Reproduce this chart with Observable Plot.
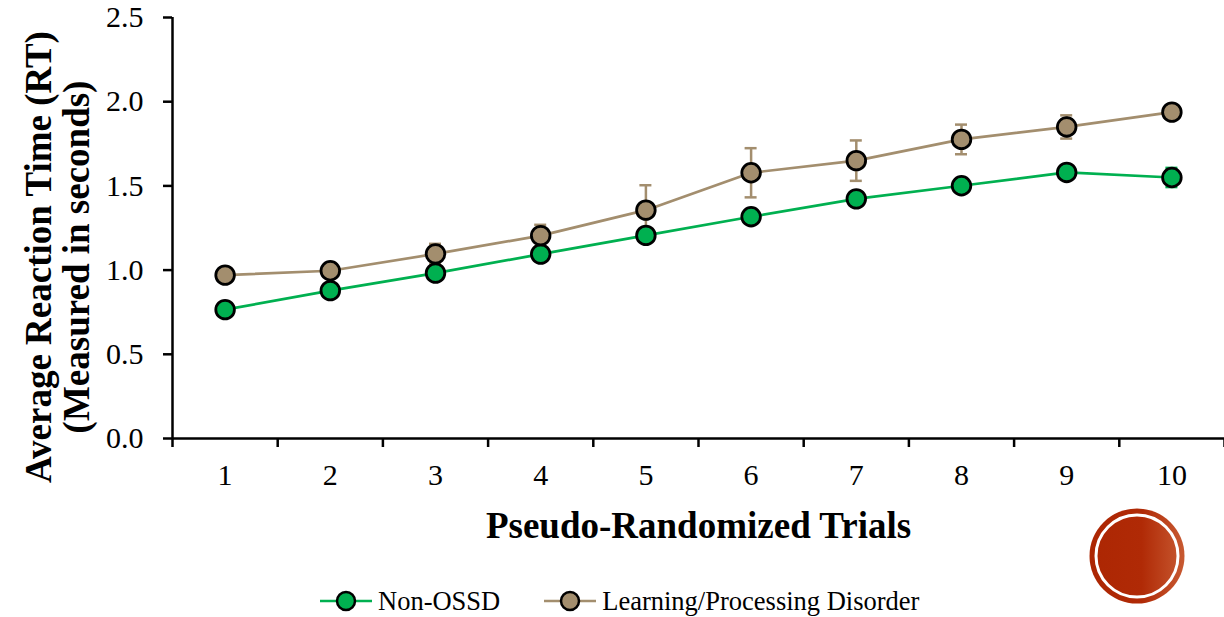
<!DOCTYPE html>
<html>
<head>
<meta charset="utf-8">
<script src="https://cdn.jsdelivr.net/npm/d3@7"></script>
<script src="https://cdn.jsdelivr.net/npm/@observablehq/plot@0.6"></script>
<style>
  html, body { margin: 0; padding: 0; background: #fff; }
  #wrap { position: relative; width: 1224px; height: 617px; overflow: hidden; font-family: "Liberation Serif", "Times New Roman", serif; }
  #chart svg { display: block; }
  #legend { position: absolute; left: 320px; top: 586px; height: 30px; display: flex; align-items: center; font-size: 26.5px; color: #000; }
  .item { display: flex; align-items: center; margin-right: 44px; }
  .item svg { display: block; margin-right: 6px; }
  #deco { position: absolute; left: 1088px; top: 507px; }
</style>
</head>
<body>
<div id="wrap">
  <div id="chart"></div>
  <div id="legend"></div>
  <svg id="deco" width="98" height="98" viewBox="0 0 98 98">
    <defs>
      <linearGradient id="rg" x1="0" y1="0" x2="1" y2="0">
        <stop offset="0" stop-color="#AC2603"/>
        <stop offset="0.55" stop-color="#B02A06"/>
        <stop offset="1" stop-color="#C85A32"/>
      </linearGradient>
    </defs>
    <circle cx="49" cy="49" r="47.5" fill="url(#rg)"/>
    <circle cx="49" cy="49" r="41" fill="none" stroke="#fff" stroke-width="3"/>
  </svg>
</div>
<script>
// ---- data ----
const trials = [1, 2, 3, 4, 5, 6, 7, 8, 9, 10];
const seriesNames = ["Non-OSSD", "Learning/Processing Disorder"];
const seriesColors = ["#00B050", "#A38E6E"];
const nonOssd    = [0.765, 0.878, 0.982, 1.095, 1.206, 1.317, 1.423, 1.501, 1.580, 1.550];
const nonOssdErr = [0.020, 0.020, 0.020, 0.025, 0.030, 0.030, 0.030, 0.030, 0.035, 0.057];
const lpd        = [0.970, 0.996, 1.096, 1.205, 1.356, 1.578, 1.650, 1.776, 1.850, 1.938];
const lpdErr     = [0.030, 0.030, 0.060, 0.064, 0.148, 0.146, 0.120, 0.088, 0.069, 0.035];
const yTicks = [0, 0.5, 1.0, 1.5, 2.0, 2.5];
const yDomain = [0, 2.5];
const xTitle = "Pseudo-Randomized Trials";
const yTitleLines = ["Average Reaction Time (RT)", "(Measured in seconds)"];

// ---- build table ----
const rows = trials.flatMap((t, i) => [
  {trial: t, series: seriesNames[0], value: nonOssd[i], err: nonOssdErr[i]},
  {trial: t, series: seriesNames[1], value: lpd[i], err: lpdErr[i]}
]);
const xDomain = [trials[0] - 0.5, trials[trials.length - 1] + 0.5];
const boundaries = trials.map(t => t - 0.5).concat([trials[trials.length - 1] + 0.5]);
const capHalf = 0.057;
const font = "'Liberation Serif', 'Times New Roman', serif";

const chart = Plot.plot({
  width: 1224,
  height: 560,
  marginLeft: 172,
  marginRight: 0,
  marginTop: 17,
  marginBottom: 122,
  x: {type: "linear", domain: xDomain},
  y: {domain: yDomain},
  color: {domain: seriesNames, range: seriesColors},
  style: {fontFamily: font, color: "#000", background: "#fff", overflow: "visible"},
  marks: [
    Plot.axisY({ticks: yTicks, tickFormat: d3.format(".1f"), tickSize: 9, tickPadding: 20, fontSize: 30, strokeWidth: 2.5, label: null}),
    Plot.axisX({ticks: boundaries, tickFormat: () => "", tickSize: 9, strokeWidth: 2.5, label: null}),
    Plot.axisX({ticks: trials, tickFormat: d => String(d), tickSize: 0, tickPadding: 25, fontSize: 30, label: null}),
    Plot.ruleX([xDomain[0]], {stroke: "#000", strokeWidth: 2.5}),
    Plot.ruleY([yDomain[0]], {stroke: "#000", strokeWidth: 2.5}),
    // error bars
    Plot.ruleX(rows, {x: "trial", y1: d => d.value - d.err, y2: d => d.value + d.err, stroke: "series", strokeWidth: 2.5}),
    Plot.ruleY(rows, {y: d => d.value + d.err, x1: d => d.trial - capHalf, x2: d => d.trial + capHalf, stroke: "series", strokeWidth: 2.5}),
    Plot.ruleY(rows, {y: d => d.value - d.err, x1: d => d.trial - capHalf, x2: d => d.trial + capHalf, stroke: "series", strokeWidth: 2.5}),
    // lines and markers
    Plot.line(rows, {x: "trial", y: "value", z: "series", stroke: "series", strokeWidth: 2.7}),
    Plot.dot(rows, {x: "trial", y: "value", fill: "series", stroke: "#000", strokeWidth: 2.8, r: 9.3}),
    // titles
    Plot.text([yTitleLines[0]], {text: d => d, frameAnchor: "left", rotate: -90, dx: -122, dy: 29, fontSize: 37, fontWeight: "bold", lineAnchor: "bottom", textAnchor: "middle", fill: "#000"}),
    Plot.text([yTitleLines[1]], {text: d => d, frameAnchor: "left", rotate: -90, dx: -84, dy: 29, fontSize: 37, fontWeight: "bold", lineAnchor: "bottom", textAnchor: "middle", fill: "#000"}),
    Plot.text([xTitle], {text: d => d, frameAnchor: "bottom", dy: 99, fontSize: 37, fontWeight: "bold", lineAnchor: "bottom", fill: "#000"})
  ]
});
document.getElementById("chart").appendChild(chart);

// ---- legend ----
const legend = d3.select("#legend");
seriesNames.forEach((name, i) => {
  const item = legend.append("div").attr("class", "item");
  const s = item.append("svg").attr("width", 52).attr("height", 26);
  s.append("line").attr("x1", 0).attr("x2", 52).attr("y1", 13).attr("y2", 13)
    .attr("stroke", seriesColors[i]).attr("stroke-width", 2.5);
  s.append("circle").attr("cx", 26).attr("cy", 13).attr("r", 9)
    .attr("fill", seriesColors[i]).attr("stroke", "#000").attr("stroke-width", 2.5);
  item.append("span").text(name);
});
</script>
</body>
</html>
